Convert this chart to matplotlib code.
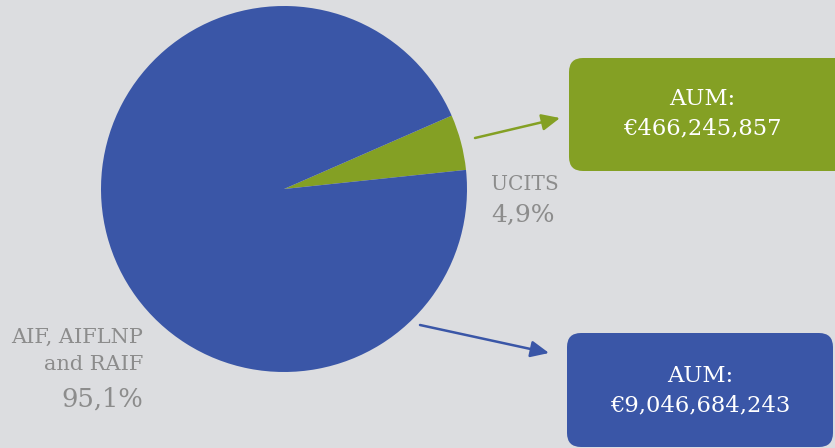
import matplotlib.pyplot as plt
from matplotlib.patches import FancyBboxPatch

# data
labels = ["UCITS", "AIF, AIFLNP\nand RAIF"]
shares = [4.9, 95.1]
share_text = ["4,9%", "95,1%"]
aum_text = ["AUM:\n€466,245,857", "AUM:\n€9,046,684,243"]
colors = ["#84a024", "#3a56a7"]

BG = "#dcdde0"
GREY = "#8c8c8c"
H = 448

fig = plt.figure(figsize=(8.35, 4.48), dpi=100)
fig.patch.set_facecolor(BG)
ax = fig.add_axes([0, 0, 1, 1])
ax.set_facecolor(BG)

ax.pie(shares, colors=colors, startangle=6, counterclock=True,
       center=(284, H - 189), radius=183, frame=True,
       wedgeprops=dict(linewidth=0))
ax.set_xlim(0, 835)
ax.set_ylim(0, H)
ax.set_aspect("equal")
ax.axis("off")

font = "DejaVu Serif"


def box(x, y, w, h, fc):
    p = FancyBboxPatch((x, H - y - h), w, h, boxstyle="round,pad=0,rounding_size=14",
                       facecolor=fc, edgecolor="none", zorder=3)
    ax.add_patch(p)


def arrow(x0, y0, x1, y1, color):
    ax.annotate("", xy=(x1, H - y1), xytext=(x0, H - y0),
                arrowprops=dict(arrowstyle="-|>,head_length=1.1,head_width=0.5",
                                color=color, lw=1.8, shrinkA=0, shrinkB=0),
                zorder=4)


# green box (UCITS)
box(569, 58, 280, 113, colors[0])
ax.text(702, H - 114, aum_text[0], ha="center", va="center", color="white",
        fontsize=16.3, family=font, linespacing=1.45, zorder=5)
arrow(475, 138, 560, 118, colors[0])

# blue box (AIF)
box(567, 333, 266, 114, colors[1])
ax.text(700, H - 391, aum_text[1], ha="center", va="center", color="white",
        fontsize=16.3, family=font, linespacing=1.45, zorder=5)
arrow(420, 325, 549, 353, colors[1])

# UCITS label
ax.text(491, H - 184, labels[0], ha="left", va="center", color=GREY,
        fontsize=14.5, family=font, zorder=5)
ax.text(491, H - 215, share_text[0], ha="left", va="center", color=GREY,
        fontsize=18, family=font, fontweight="light", zorder=5)

# AIF label
ax.text(143, H - 351, labels[1], ha="right", va="center", color=GREY,
        fontsize=15, family=font, linespacing=1.5, multialignment="right", zorder=5)
ax.text(143, H - 399, share_text[1], ha="right", va="center", color=GREY,
        fontsize=18.5, family=font, fontweight="light", zorder=5)

plt.savefig("out.png", dpi=100, facecolor=BG)
